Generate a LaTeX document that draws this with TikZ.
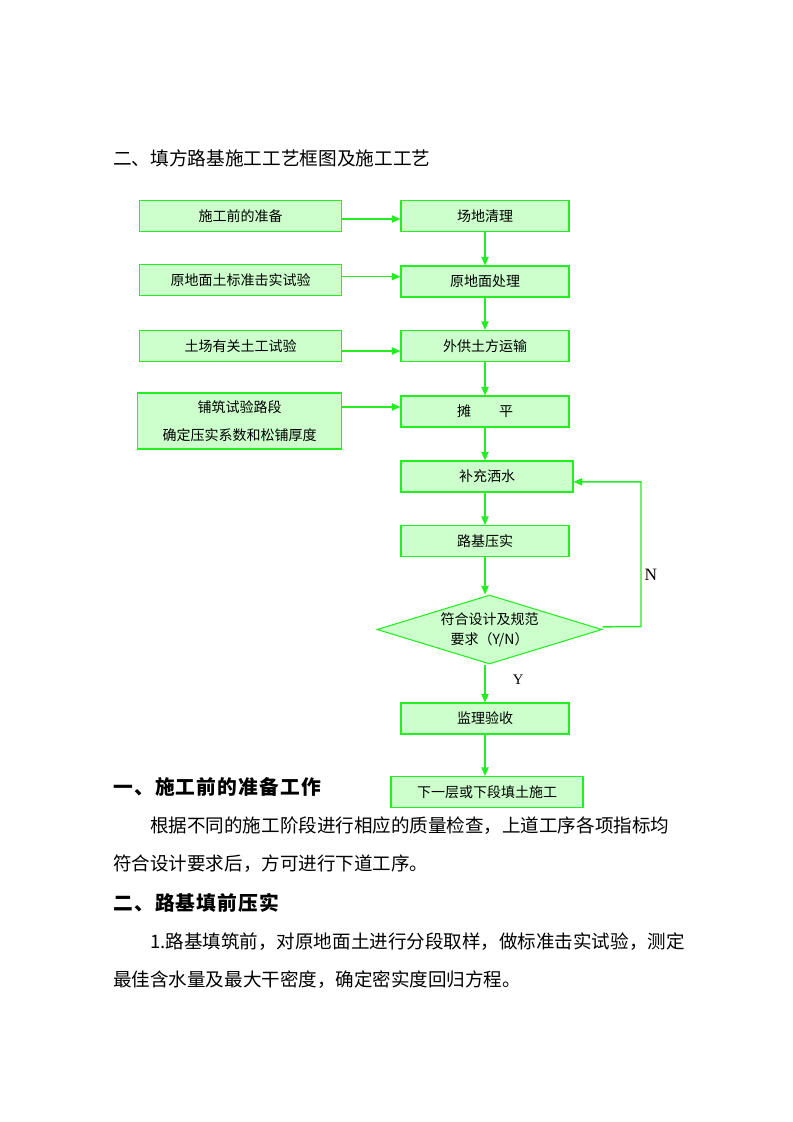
\documentclass[tikz,border=0pt]{standalone}
\usepackage{fontspec}
\setmainfont{Liberation Serif}
\newfontfamily\cjk{Noto Sans CJK SC}
\newfontfamily\cjkhead[LetterSpace=6]{Noto Sans CJK SC}
\usepackage{xcolor}
\usetikzlibrary{shapes.geometric, arrows.meta, positioning}

\definecolor{flowline}{HTML}{22EE22}
\definecolor{flowfill}{HTML}{CCFFCC}

\begin{document}
\begin{tikzpicture}[x=0.75pt, y=-0.75pt,
		% Define styles
		leftbox/.style={
			rectangle,
			draw=flowline,
			line width=0.8pt,
			fill=flowfill,
			font=\cjk\fontsize{10.5}{15}\selectfont,
			align=center,
			minimum width=151.5pt,
			minimum height=23.25pt,
			inner sep=0pt
		},
		rightbox/.style={
			leftbox,
			minimum width=126pt
		},
		decision/.style={
			diamond,
			draw=flowline,
			line width=0.8pt,
			fill=flowfill,
			font=\cjk\fontsize{10.5}{15}\selectfont,
			align=center,
			aspect=3.2,
			inner sep=0pt,
			minimum width=168.75pt,
			minimum height=51.75pt
		},
		bodytext/.style={
			anchor=west,
			inner sep=0pt,
			font=\cjk\fontsize{13.9}{17}\selectfont
		},
		headtext/.style={
			anchor=west,
			inner sep=0pt,
			font=\cjkhead\bfseries\fontsize{14.8}{18}\selectfont
		},
		% Define arrow style
		arrow/.style={-{Triangle[length=6.5pt,width=5.5pt]}, draw=flowline, line width=1.1pt}
		]

		\fill[white] (0,0) rectangle (793,1122);
		\useasboundingbox (0,0) rectangle (793,1122);

		% ----- Title -----
		\node[anchor=west, inner sep=0pt, font=\cjk\fontsize{14}{17}\selectfont] (title)
		at (113,158) {二、填方路基施工工艺框图及施工工艺};

		% ----- Left column (preparation and tests) -----
		\node[leftbox] (prep) at (240.5,216) {施工前的准备};
		\node[leftbox] (soiltest) at (240.5,280) {原地面土标准击实试验};
		\node[leftbox] (pittest) at (240.5,346) {土场有关土工试验};
		\node[leftbox, minimum width=153pt, minimum height=42pt] (trial) at (239.5,421)
		{铺筑试验路段\\[6pt]确定压实系数和松铺厚度};

		% ----- Right column (main process) -----
		\node[rightbox] (clear) at (485,216) {场地清理};
		\node[rightbox] (ground) at (485,281.5) {原地面处理};
		\node[rightbox] (haul) at (485,346) {外供土方运输};
		\node[rightbox] (spread) at (485,411.5) {摊\hspace{2em}平};
		\node[rightbox, minimum width=129pt] (water) at (487,476.5) {补充洒水};
		\node[rightbox] (compact) at (485,541) {路基压实};
		\node[decision] (check) at (489.5,629.5) {符合设计及规范\\要求（Y/N）};
		\node[rightbox] (accept) at (485,718.5) {监理验收};
		\node[rightbox, minimum width=144pt] (next) at (487,792) {下一层或下段填土施工};

		% ----- Arrows from the left column -----
		\draw[arrow] ([yshift=-2.25pt]prep.east) -- ([yshift=-2.25pt]prep.east -| clear.west);
		\draw[arrow] ([yshift=2.5pt]soiltest.east) -- ([yshift=2.5pt]soiltest.east -| ground.west);
		\draw[arrow] ([yshift=-3.75pt]pittest.east) -- ([yshift=-3.75pt]pittest.east -| haul.west);
		\draw[arrow] ([yshift=3.4pt]trial.east |- spread.west) -- ([yshift=3.4pt]spread.west);

		% ----- Arrows down the main column -----
		\draw[arrow] (clear.south) -- (ground.north);
		\draw[arrow] (ground.south) -- (haul.north);
		\draw[arrow] (haul.south) -- (spread.north);
		\draw[arrow] (spread.south) -- (spread.south |- water.north);
		\draw[arrow] (compact.north |- water.south) -- (compact.north);
		\draw[arrow] (compact.south) -- (compact.south |- check.north);
		\draw[arrow] (accept.north |- check.south) -- (accept.north)
			node[pos=0.4, right=17pt, font=\fontsize{11}{13}\selectfont] (yes) {Y};
		\draw[arrow] (accept.south) -- (accept.south |- next.north);

		% ----- Loop back when the check fails -----
		\coordinate (loop) at (641,626.5);
		\draw[arrow] ([yshift=2pt]check.east) -- (loop) |- ([yshift=-4pt]water.east);
		\node[font=\fontsize{13}{15}\selectfont] (no) at (651,575) {N};

		% ----- Text below the chart -----
		\node[headtext] (head1) at (113,787) {一、施工前的准备工作};
		\node[bodytext] (para1) at (150,826) {根据不同的施工阶段进行相应的质量检查，上道工序各项指标均};
		\node[bodytext] (para2) at (113,864) {符合设计要求后，方可进行下道工序。};
		\node[headtext] (head2) at (113,903) {二、路基填前压实};
		\node[bodytext] (para3) at (150,942) {1.路基填筑前，对原地面土进行分段取样，做标准击实试验，测定};
		\node[bodytext] (para4) at (113,980) {最佳含水量及最大干密度，确定密实度回归方程。};

	\end{tikzpicture}
\end{document}
